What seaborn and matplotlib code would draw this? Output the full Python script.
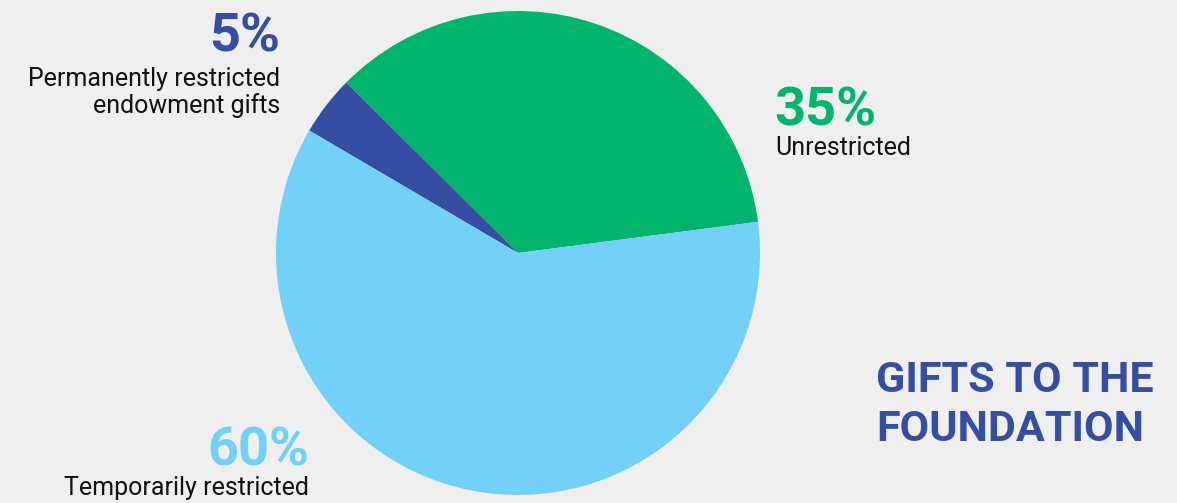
import matplotlib
matplotlib.use("Agg")
import matplotlib.pyplot as plt
import seaborn as sns

# slice data, drawn counter-clockwise from the right
categories = ["Unrestricted", "Permanently restricted\nendowment gifts", "Temporarily restricted"]
shares = [35.5, 4.0, 60.5]
pct_labels = ["35%", "5%", "60%"]
colors = ["#00b46e", "#354ea2", "#73d0f7"]

bg = "#efefef"
sns.set_theme(style="white")
plt.rcParams["font.family"] = ["Roboto", "DejaVu Sans"]

W, H = 1177, 503
fig = plt.figure(figsize=(W / 100, H / 100), dpi=100, facecolor=bg)

# pie axes: centre (518, 253) px, radius 242 px
cx, cy, r = 518, 253, 242
ax = fig.add_axes([(cx - r) / W, (H - cy - r) / H, 2 * r / W, 2 * r / H])
ax.set_facecolor(bg)
ax.pie(shares, colors=colors, startangle=7.4, counterclock=True,
       wedgeprops=dict(linewidth=0))
ax.set_xlim(-1, 1)
ax.set_ylim(-1, 1)
ax.set_aspect("equal")
ax.axis("off")


def px(x, y):
    return x / W, 1 - y / H


big = dict(fontsize=39, fontweight="bold")
small = dict(fontsize=18, color="#111111")

# 5% label (top left)
fig.text(*px(280, 52), pct_labels[1], ha="right", va="baseline", color=colors[1], **big)
fig.text(*px(280, 113), categories[1], ha="right", va="baseline",
         linespacing=1.1, multialignment="right", **small)

# 35% label (right)
fig.text(*px(774, 125), pct_labels[0], ha="left", va="baseline", color=colors[0], **big)
fig.text(*px(775, 155), categories[0], ha="left", va="baseline", **small)

# 60% label (bottom left)
fig.text(*px(309, 466), pct_labels[2], ha="right", va="baseline", color=colors[2], **big)
fig.text(*px(309, 495), categories[2], ha="right", va="baseline", **small)

# title
title = dict(fontsize=31, fontweight="bold", color="#354ea2")
fig.text(*px(876, 392), "GIFTS TO THE", ha="left", va="baseline", **title)
fig.text(*px(876, 441), "FOUNDATION", ha="left", va="baseline", **title)

fig.savefig("out.png", dpi=100, facecolor=bg)
